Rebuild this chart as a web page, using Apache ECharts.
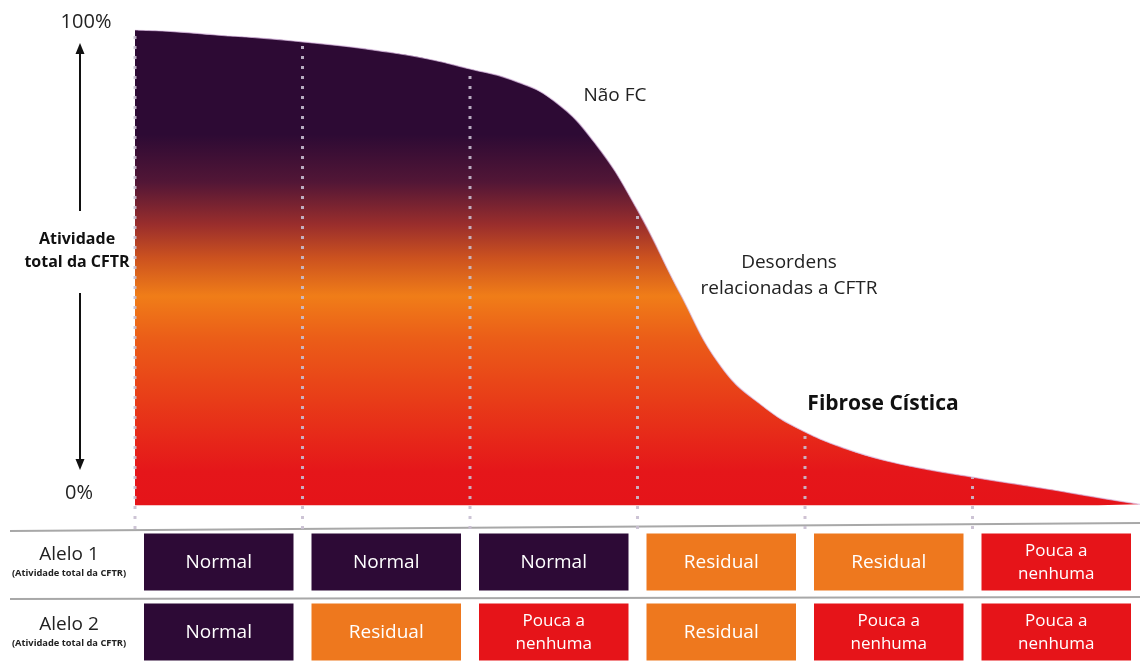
<!DOCTYPE html>
<html>
<head>
<meta charset="utf-8">
<title>Atividade total da CFTR</title>
<script src="https://cdn.jsdelivr.net/npm/echarts@6/dist/echarts.min.js"></script>
<style>
  html, body { margin: 0; padding: 0; background: #fff; }
  #chart { width: 1140px; height: 661px; }
</style>
</head>
<body>
<div id="chart"></div>
<script>
// curva: posição horizontal (0..6, uma unidade por coluna) e atividade total em %
const curveX = [0, 0.25, 0.5, 0.75, 1, 1.25, 1.5, 1.75, 2, 2.25, 2.5, 2.75, 3, 3.25, 3.5, 3.75, 4, 4.25, 4.5, 4.75, 5, 5.25, 5.5, 5.75, 6]
const curveY = [100, 99.6, 98.9, 98.3, 97.5, 96.6, 95.4, 93.9, 91.8, 89.5, 85.1, 76.0, 62.1, 44.8, 29.1, 20.8, 15.4, 11.8, 9.2, 7.4, 5.9, 4.5, 3.1, 1.6, 0.2]

// linhas pontilhadas que separam as colunas
const dividerX = [0, 1, 2, 3, 4, 5]

// tabela dos alelos
const columns = ['c1', 'c2', 'c3', 'c4', 'c5', 'c6']
const rows = ['Alelo 1', 'Alelo 2']
const alelo1 = ['Normal', 'Normal', 'Normal', 'Residual', 'Residual', 'Pouca a nenhuma']
const alelo2 = ['Normal', 'Residual', 'Pouca a nenhuma', 'Residual', 'Pouca a nenhuma', 'Pouca a nenhuma']

const levelColors = {
  'Normal': '#2d0a36',
  'Residual': '#ee781e',
  'Pouca a nenhuma': '#e61419'
}
const levelText = {
  'Normal': 'Normal',
  'Residual': 'Residual',
  'Pouca a nenhuma': 'Pouca a\nnenhuma'
}

const cells = []
alelo1.forEach((v, i) => cells.push([i, 0, v]))
alelo2.forEach((v, i) => cells.push([i, 1, v]))

const font = '"Open Sans", sans-serif'

var myChart = echarts.init(document.getElementById('chart'))

const dividerSeries = dividerX.map(c => {
  const top = curveY[curveX.indexOf(c)]
  return {
    type: 'line',
    xAxisIndex: 0,
    yAxisIndex: 0,
    data: [[c, -5], [c, top]],
    symbol: 'none',
    clip: false,
    silent: true,
    lineStyle: { color: 'rgba(200,190,208,0.9)', width: 3, type: [3, 7] },
    z: 3
  }
})

myChart.setOption({
  animation: false,
  grid: [
    { left: 135, right: 0, top: 30, bottom: 132, outerBoundsMode: 'none' },
    { left: 135, right: 0, top: 527, height: 140, outerBoundsMode: 'none' }
  ],
  xAxis: [
    { type: 'value', gridIndex: 0, min: 0, max: 6, show: false },
    { type: 'category', gridIndex: 1, data: columns, show: false }
  ],
  yAxis: [
    { type: 'value', gridIndex: 0, min: -5, max: 100, show: false },
    {
      type: 'category',
      gridIndex: 1,
      data: rows,
      inverse: true,
      axisLine: { show: false },
      axisTick: { show: false },
      splitLine: { show: false },
      axisLabel: {
        margin: 66,
        align: 'center',
        formatter: v => `{a|${v}}\n{b|(Atividade total da CFTR)}`,
        rich: {
          a: { fontFamily: font, fontSize: 19, color: '#222', lineHeight: 22 },
          b: { fontFamily: font, fontSize: 9.3, fontWeight: 'bold', color: '#222', lineHeight: 14 }
        }
      }
    }
  ],
  series: [
    {
      type: 'line',
      xAxisIndex: 0,
      yAxisIndex: 0,
      data: curveX.map((x, i) => [x, curveY[i]]),
      smooth: 0.45,
      symbol: 'none',
      silent: true,
      lineStyle: { color: '#d8b8e0', width: 1.2, opacity: 0.7 },
      areaStyle: {
        opacity: 1,
        color: new echarts.graphic.LinearGradient(0, 0, 0, 1, [
          { offset: 0, color: '#2d0a34' },
          { offset: 0.22, color: '#2d0a34' },
          { offset: 0.32, color: '#521636' },
          { offset: 0.41, color: '#9a2e2c' },
          { offset: 0.48, color: '#cc521f' },
          { offset: 0.56, color: '#f07d18' },
          { offset: 0.65, color: '#eb5d18' },
          { offset: 0.78, color: '#e83c18' },
          { offset: 0.93, color: '#e5161a' },
          { offset: 1, color: '#e51419' }
        ])
      },
      z: 2
    },
    ...dividerSeries,
    {
      type: 'custom',
      xAxisIndex: 1,
      yAxisIndex: 1,
      data: cells,
      silent: true,
      renderItem: (params, api) => {
        const p = api.coord([api.value(0), api.value(1)])
        const size = api.size([1, 1])
        const w = size[0] - 18
        const h = size[1] - 13
        const level = cells[params.dataIndex][2]
        const twoLines = level === 'Pouca a nenhuma'
        return {
          type: 'group',
          children: [
            {
              type: 'rect',
              shape: { x: p[0] - w / 2, y: p[1] - h / 2, width: w, height: h },
              style: { fill: levelColors[level] }
            },
            {
              type: 'text',
              x: p[0],
              y: p[1] + 1,
              style: {
                text: levelText[level],
                fill: '#fff',
                fontFamily: font,
                fontSize: twoLines ? 17 : 19,
                lineHeight: 23,
                align: 'center',
                verticalAlign: 'middle'
              }
            }
          ]
        }
      }
    }
  ],
  graphic: [
    // linhas que separam as linhas da tabela
    { type: 'line', shape: { x1: 10, y1: 531, x2: 1140, y2: 523 }, style: { stroke: '#a8a8a8', lineWidth: 2 } },
    { type: 'line', shape: { x1: 10, y1: 599, x2: 1140, y2: 597 }, style: { stroke: '#a8a8a8', lineWidth: 2 } },
    // eixo vertical com setas
    { type: 'text', x: 86, y: 22, style: { text: '100%', fontFamily: font, fontSize: 20, fill: '#222', align: 'center', verticalAlign: 'middle' } },
    { type: 'text', x: 79, y: 493, style: { text: '0%', fontFamily: font, fontSize: 20, fill: '#222', align: 'center', verticalAlign: 'middle' } },
    { type: 'line', shape: { x1: 80, y1: 52, x2: 80, y2: 211 }, style: { stroke: '#111', lineWidth: 2 } },
    { type: 'polygon', shape: { points: [[80, 43], [75.5, 54], [84.5, 54]] }, style: { fill: '#111' } },
    { type: 'line', shape: { x1: 80, y1: 293, x2: 80, y2: 461 }, style: { stroke: '#111', lineWidth: 2 } },
    { type: 'polygon', shape: { points: [[80, 470], [75.5, 459], [84.5, 459]] }, style: { fill: '#111' } },
    {
      type: 'text', x: 77, y: 251,
      style: { text: 'Atividade\ntotal da CFTR', fontFamily: font, fontSize: 16, fontWeight: 'bold', lineHeight: 23, fill: '#111', align: 'center', verticalAlign: 'middle' }
    },
    // rótulos das regiões da curva
    { type: 'text', x: 615, y: 96, style: { text: 'Não FC', fontFamily: font, fontSize: 19, fill: '#222', align: 'center', verticalAlign: 'middle' } },
    {
      type: 'text', x: 789, y: 276,
      style: { text: 'Desordens\nrelacionadas a CFTR', fontFamily: font, fontSize: 19, lineHeight: 26, fill: '#222', align: 'center', verticalAlign: 'middle' }
    },
    { type: 'text', x: 883, y: 404, style: { text: 'Fibrose Cística', fontFamily: font, fontSize: 21, fontWeight: 'bold', fill: '#111', align: 'center', verticalAlign: 'middle' } }
  ]
})
</script>
</body>
</html>
